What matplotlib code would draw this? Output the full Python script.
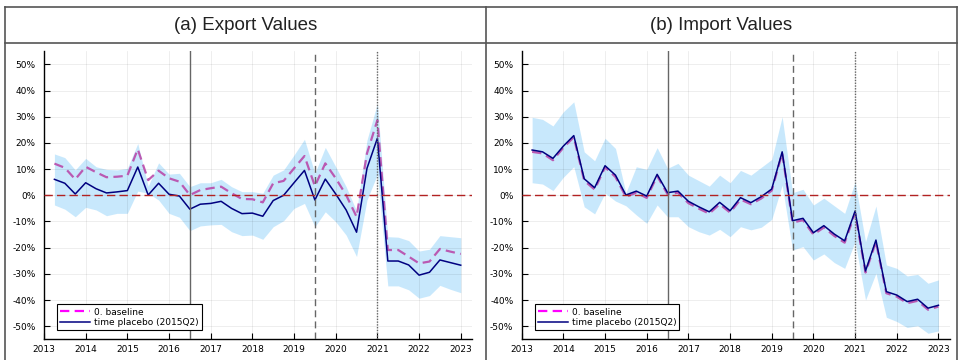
"""Export / import value event-study chart, baseline vs time placebo."""

import matplotlib

matplotlib.use("Agg")
import matplotlib.pyplot as plt
from matplotlib.lines import Line2D
from matplotlib.ticker import FixedLocator, FuncFormatter

# quarterly time axis, 2013Q2 .. 2023Q1 (plotted as 2013.25 .. 2023.0)
quarters = [2013 + 0.25 * (i + 1) for i in range(40)]

# (a) export values, percent
exp_baseline = [12.1, 10.5, 6.1, 10.9, 8.8, 6.9, 7.1, 7.5, 17.6, 5.8,
                9.4, 6.5, 5.2, 0.1, 2.0, 2.7, 3.3, 0.8, -1.4, -1.5,
                -2.7, 4.6, 5.5, 10.3, 15.0, 3.5, 12.2, 6.5, 0.1, -8.2,
                16.0, 28.7, -20.9, -20.9, -23.4, -26.0, -25.3, -20.5, -21.5, -22.4]
exp_placebo = [6.1, 4.6, 0.5, 4.8, 2.5, 0.9, 1.3, 1.8, 10.8, 0.1,
               4.6, 0.4, -0.3, -5.3, -3.4, -3.1, -2.3, -5.0, -7.0, -6.8,
               -8.0, -2.0, 0.0, 4.8, 9.5, -1.8, 6.2, 0.5, -5.6, -14.1,
               10.3, 21.8, -25.1, -25.1, -26.6, -30.5, -29.4, -24.7, -25.7, -26.7]
exp_upper = [15.8, 14.4, 9.7, 14.1, 10.9, 9.9, 9.7, 10.3, 19.8, 3.5,
             12.4, 8.1, 8.4, 3.3, 4.8, 4.8, 6.1, 3.3, 1.4, 1.4,
             0.8, 7.7, 9.7, 15.4, 21.4, 8.4, 18.3, 10.9, 3.3, -6.0,
             21.1, 35.1, -15.8, -16.0, -17.3, -21.3, -20.6, -15.4, -15.8, -16.2]
exp_lower = [-3.7, -5.3, -8.2, -4.6, -5.6, -7.8, -6.9, -6.9, 1.6, 0.8,
             -1.8, -6.9, -8.4, -13.5, -11.7, -11.3, -11.1, -13.9, -15.4, -15.2,
             -16.8, -12.0, -9.7, -5.0, -3.1, -12.0, -6.3, -10.1, -15.2, -23.4,
             -1.8, 8.0, -34.6, -34.6, -36.1, -39.3, -38.3, -34.4, -35.9, -37.2]

# (b) import values, percent
imp_baseline = [16.6, 16.0, 13.4, 18.2, 22.2, 5.6, 2.2, 10.7, 7.0, -0.6,
                1.0, -1.0, 7.4, 0.4, 1.0, -3.0, -5.1, -7.0, -3.4, -6.6,
                -1.6, -3.4, -1.2, 1.8, 16.1, -10.4, -9.5, -15.0, -12.3, -15.5,
                -18.1, -6.8, -29.5, -17.8, -37.4, -38.7, -41.2, -40.3, -43.7, -42.5]
imp_placebo = [17.3, 16.6, 14.1, 18.8, 22.8, 6.3, 2.9, 11.3, 7.7, 0.1,
               1.6, -0.3, 8.0, 1.0, 1.6, -2.3, -4.4, -6.3, -2.7, -5.9,
               -0.9, -2.8, -0.5, 2.4, 16.6, -9.7, -8.8, -14.3, -11.6, -14.8,
               -17.4, -6.0, -28.9, -17.1, -36.8, -38.1, -40.6, -39.7, -43.1, -42.0]
imp_upper = [29.8, 29.0, 26.5, 31.9, 35.7, 16.6, 13.2, 21.8, 17.9, 1.0,
             10.9, 9.9, 18.2, 10.3, 12.2, 7.7, 5.6, 3.5, 7.7, 4.8,
             9.5, 7.7, 10.7, 13.7, 30.0, 1.0, 2.3, -3.7, -1.1, -4.0,
             -6.9, 5.2, -17.7, -4.1, -26.6, -27.9, -30.8, -30.2, -33.6, -32.3]
imp_lower = [4.8, 4.3, 1.8, 6.9, 10.9, -4.4, -7.1, 0.8, -2.2, -4.0,
             -7.5, -10.7, -3.7, -8.2, -8.2, -12.0, -13.9, -15.2, -13.0, -15.8,
             -12.0, -13.2, -12.2, -9.2, 3.9, -20.9, -19.6, -24.7, -22.4, -25.7,
             -27.9, -17.7, -40.0, -29.8, -46.6, -48.2, -50.5, -49.8, -52.7, -51.8]

panel_titles = ["(a) Export Values", "(b) Import Values"]
year_ticks = list(range(2013, 2024))
pct_ticks = list(range(-50, 51, 10))
event_lines = [(2016.5, "-"), (2019.5, (0, (5, 3))), (2021.0, (0, (1, 1)))]
legend_labels = ["0. baseline", "time placebo (2015Q2)"]

W, H = 961, 360
fig = plt.figure(figsize=(W / 100, H / 100), dpi=100)
plt.rcParams["font.family"] = ["DejaVu Sans"]

frame_col = "#555555"
panels = [
    (44, exp_baseline, exp_placebo, exp_upper, exp_lower),
    (521.7, imp_baseline, imp_placebo, imp_upper, imp_lower),
]
ax_w = 428
ax_top, ax_bot = 51.3, 339.3

for k, (x0, base, plac, up, lo) in enumerate(panels):
    ax = fig.add_axes([x0 / W, 1 - ax_bot / H, ax_w / W, (ax_bot - ax_top) / H])
    ax.fill_between(quarters, lo, up, color="#87cefa", alpha=0.45, lw=0, zorder=1)
    ax.plot(quarters, base, color="#b94aaa", alpha=0.9, lw=1.6,
            ls=(0, (4.2, 2.4)), zorder=2, label=legend_labels[0])
    ax.plot(quarters, plac, color="navy", lw=1.1, zorder=3, label=legend_labels[1])
    ax.axhline(0, color="#b22222", lw=1.0, ls=(0, (6, 3)), zorder=4)
    for xv, style in event_lines:
        ax.axvline(xv, color="#666666", lw=1.0, ls=style, zorder=4)

    ax.set_xlim(2013, 2023.27)
    ax.set_ylim(-55, 55)
    ax.xaxis.set_major_locator(FixedLocator(year_ticks))
    ax.yaxis.set_major_locator(FixedLocator(pct_ticks))
    ax.yaxis.set_major_formatter(FuncFormatter(lambda v, p: f"{int(round(v))}%"))
    ax.tick_params(direction="in", length=4, width=0.8, labelsize=6.5, colors="black")
    ax.tick_params(axis="y", pad=6)
    ax.tick_params(axis="x", pad=4)
    ax.grid(True, color="#000000", alpha=0.08, lw=0.6)
    for side in ("top", "right"):
        ax.spines[side].set_visible(False)
    for side in ("left", "bottom"):
        ax.spines[side].set_linewidth(1.0)

    leg = ax.legend(loc="lower left", bbox_to_anchor=(0.031, 0.032), borderaxespad=0,
                    fontsize=6.5, fancybox=False, framealpha=1, edgecolor="black",
                    handlelength=3.3, labelspacing=0.15, borderpad=0.35,
                    handletextpad=0.4)
    leg.get_frame().set_linewidth(0.8)
    leg.get_lines()[0].set_color("magenta")
    leg.get_lines()[0].set_alpha(1)

    cx = (5 + 485.7) / 2 if k == 0 else (485.7 + 956.5) / 2
    fig.text(cx / W, 1 - 25 / H, panel_titles[k], ha="center", va="center",
             fontsize=13.5, family="Liberation Sans", color="#222222")

# panel frames
top_y, title_y = 1 - 7.3 / H, 1 - 42.7 / H
for y in (top_y, title_y):
    fig.add_artist(Line2D([5 / W, 956.5 / W], [y, y], transform=fig.transFigure,
                          color=frame_col, lw=1.2))
for x in (5, 485.7, 956.5):
    fig.add_artist(Line2D([x / W, x / W], [0, top_y], transform=fig.transFigure,
                          color=frame_col, lw=1.2))

fig.savefig("out.png", dpi=100)
